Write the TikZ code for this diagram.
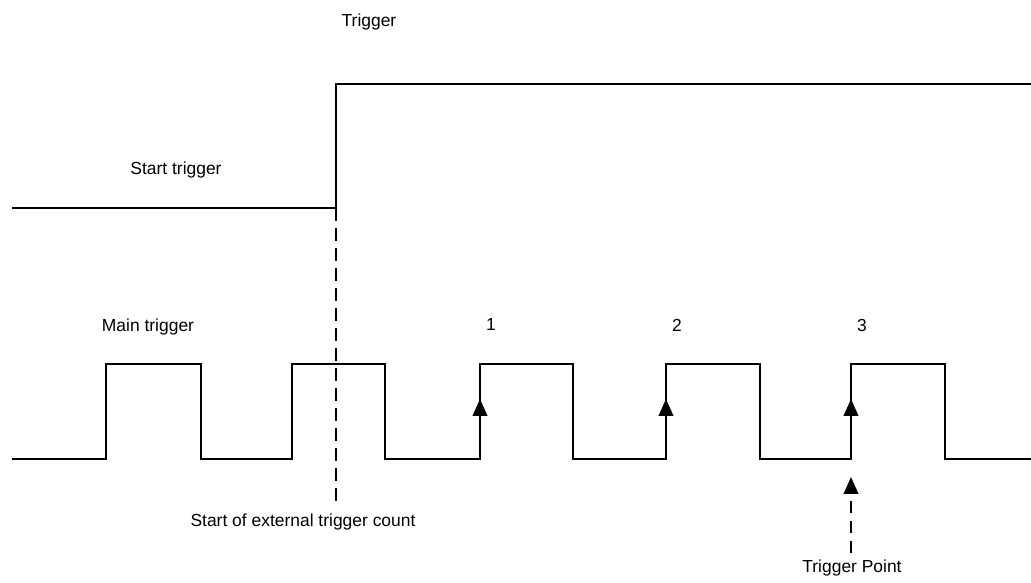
\documentclass[tikz,border=0pt]{standalone}
\usepackage{fontspec}
\setmainfont{Liberation Sans}
\usetikzlibrary{arrows.meta, positioning}

\begin{document}
\begin{tikzpicture}[
  x=0.025cm, y=-0.025cm,
  wave/.style={line width=1.6pt, line join=miter},
  marker/.style={line width=1.6pt, dash pattern=on 0.32cm off 0.18cm},
  edgetip/.style={line width=1.6pt, -{Triangle[width=0.36cm, length=0.42cm]}},
  label/.style={font=\fontsize{12.4}{14}\selectfont, inner sep=1pt},
]
  \useasboundingbox (0,0) rectangle (1031,583);

  % Start trigger
  \draw[wave] (12,208) -- (336,208) coordinate (rise) -- (336,84) -- (1031,84);
  \node[label] (trig) at (369,22) {Trigger};
  \node[label] (start) at (176,170) {Start trigger};

  % Main trigger pulses
  \draw[wave] (12,459) -- (106,459) -- (106,364) -- (201,364) -- (201,459)
    -- (292,459) -- (292,364) -- (385,364) -- (385,459)
    -- (480,459) -- (480,364) -- (573,364) -- (573,459)
    -- (666,459) -- (666,364) -- (760,364) -- (760,459)
    -- (851,459) -- (851,364) -- (945,364) -- (945,459) -- (1031,459);
  \node[label] (main) at (148,327) {Main trigger};

  % Counted edges
  \foreach \xe/\num in {480/1, 666/2, 851/3} {
    \draw[edgetip] (\xe,459) -- (\xe,399);
    \node[label] (cnt\num) at (\xe+11,325) {\num};
  }

  % Start of count
  \coordinate (countend) at (336,505);
  \draw[marker] (rise) -- (countend);
  \node[label] (count) at (303,522) {Start of external trigger count};

  % Trigger point
  \node[label] (tpoint) at (852,568) {Trigger Point};
  \coordinate (tptip) at (851,477);
  \draw[marker, -{Triangle[width=0.36cm, length=0.42cm]}] ([yshift=0.12cm]tpoint.north -| tptip) -- (tptip);
\end{tikzpicture}
\end{document}
